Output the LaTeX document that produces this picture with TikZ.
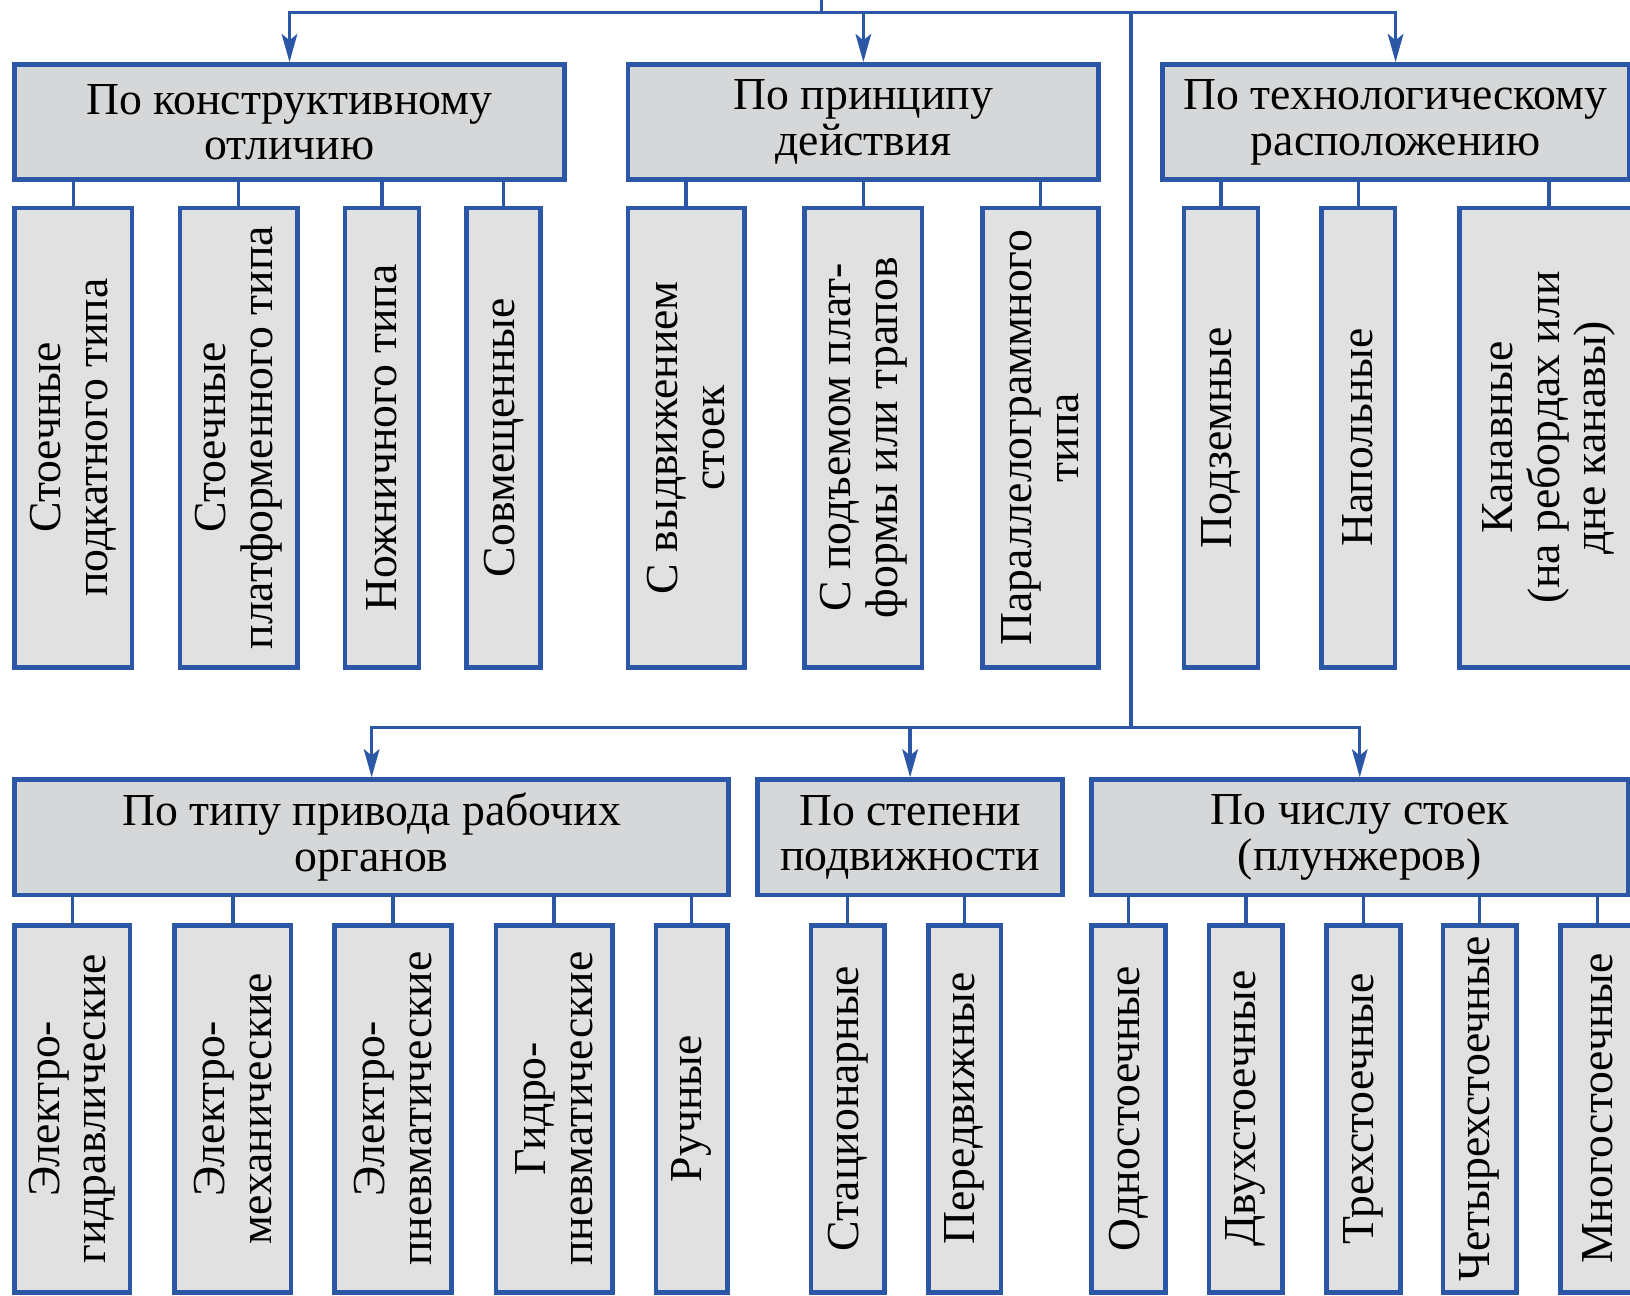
\documentclass[tikz,border=0pt]{standalone}
\usepackage{fontspec}
\setmainfont{Liberation Serif}
\usetikzlibrary{arrows.meta}
\definecolor{bl}{HTML}{2B57A6}
\definecolor{catfill}{HTML}{D5D7D8}
\definecolor{subfill}{HTML}{E0E1E0}
\tikzset{
  cat/.style={draw=bl, line width=4.5pt, fill=catfill, rectangle, align=center, inner sep=0pt,
    font=\fontsize{44}{44}\selectfont},
  sub/.style={draw=bl, line width=4.5pt, fill=subfill, rectangle, align=center, inner sep=0pt,
    rotate=90, font=\fontsize{44}{45}\selectfont},
  conn/.style={draw=bl, line width=3.2pt},
  arr/.style={conn, -{Stealth[length=27pt,width=15pt,inset=6pt]}}
}
\begin{document}
\begin{tikzpicture}[x=1pt,y=-1pt]
\useasboundingbox (0,0) rectangle (1568,1246);
% category boxes
\node[cat, minimum width=529pt, minimum height=111pt] (A) at (278.5,117.5) {По конструктивному\\отличию};
\node[cat, minimum width=453pt, minimum height=111pt] (B) at (830.5,117.5) {По принципу\\действия};
\node[cat, minimum width=449pt, minimum height=111pt] (C) at (1342.5,117.5) {По технологическому\\расположению};
\node[cat, minimum width=687pt, minimum height=111pt] (D) at (357.5,805.5) {По типу привода рабочих\\органов};
\node[cat, minimum width=293pt, minimum height=111pt] (E) at (875.5,805.5) {По степени\\подвижности};
\node[cat, minimum width=516pt, minimum height=111pt] (F) at (1308,805.5) {По числу стоек\\(плунжеров)};
% top sub boxes
\node[sub, minimum width=442pt, minimum height=113pt] (a1) at (70.5,421) {Стоечные\\подкатного типа};
\node[sub, minimum width=442pt, minimum height=113pt] (a2) at (229.5,421) {Стоечные\\платформенного типа};
\node[sub, minimum width=442pt, minimum height=71pt] (a3) at (367.5,421) {Ножничного типа};
\node[sub, minimum width=442pt, minimum height=71pt] (a4) at (484.5,421) {Совмещенные};
\node[sub, minimum width=442pt, minimum height=112pt] (b1) at (660,421) {С выдвижением\\стоек};
\node[sub, minimum width=442pt, minimum height=113pt] (b2) at (830.5,421) {С подъемом плат-\\формы или трапов};
\node[sub, minimum width=442pt, minimum height=112pt] (b3) at (1001,421) {Параллелограммного\\типа};
\node[sub, minimum width=442pt, minimum height=71pt] (c1) at (1174.5,421) {Подземные};
\node[sub, minimum width=442pt, minimum height=71pt] (c2) at (1306.5,421) {Напольные};
\node[sub, minimum width=442pt, minimum height=172pt] (c3) at (1490,421) {Канавные\\(на ребордах или\\дне канавы)};
% bottom sub boxes
\node[sub, minimum width=353pt, minimum height=111pt] (d1) at (69.5,1066.5) {Электро-\\гидравлические};
\node[sub, minimum width=353pt, minimum height=112pt] (d2) at (224,1066.5) {Электро-\\механические};
\node[sub, minimum width=353pt, minimum height=112pt] (d3) at (378,1066.5) {Электро-\\пневматические};
\node[sub, minimum width=353pt, minimum height=112pt] (d4) at (533,1066.5) {Гидро-\\пневматические};
\node[sub, minimum width=353pt, minimum height=69pt] (d5) at (665.5,1066.5) {Ручные};
\node[sub, minimum width=353pt, minimum height=71pt] (e1) at (815.5,1066.5) {Стационарные};
\node[sub, minimum width=353pt, minimum height=70pt] (e2) at (928,1066.5) {Передвижные};
\node[sub, minimum width=353pt, minimum height=71pt] (f1) at (1085.5,1066.5) {Одностоечные};
\node[sub, minimum width=353pt, minimum height=71pt] (f2) at (1198.5,1066.5) {Двухстоечные};
\node[sub, minimum width=353pt, minimum height=71pt] (f3) at (1311.5,1066.5) {Трехстоечные};
\node[sub, minimum width=353pt, minimum height=71pt] (f4) at (1423.5,1066.5) {Четырехстоечные};
\node[sub, minimum width=353pt, minimum height=71pt] (f5) at (1536.5,1066.5) {Многостоечные};
% trunk lines
\coordinate (root) at (790,-3);
\coordinate (bus1) at (790,12);
\coordinate (j) at (1088,12);
\coordinate (bus2) at (1088,700);
\draw[conn] (root) -- (bus1);
\draw[conn] (A.north |- bus1) -- (C.north |- bus1);
\draw[arr] (bus1) -| (A.north);
\draw[arr] (bus1) -| (B.north);
\draw[arr] (bus1) -| (C.north);
\draw[conn] (j) -- (bus2);
\draw[conn] (D.north |- bus2) -- (F.north |- bus2);
\draw[arr] (bus2) -| (D.north);
\draw[arr] (bus2) -| (E.north);
\draw[arr] (bus2) -| (F.north);
% child connectors
\foreach \p/\c in {A/a1,A/a2,A/a3,A/a4,B/b1,B/b2,B/b3,C/c1,C/c2,D/d1,D/d2,D/d3,D/d4,D/d5,E/e1,E/e2,F/f1,F/f2,F/f3,F/f4,F/f5}
  \draw[conn] (\c.east |- \p.south) -- (\c.east);
\coordinate (c3top) at (1490,200);
\draw[conn] (c3top |- C.south) -- (c3.east);
\end{tikzpicture}
\end{document}
